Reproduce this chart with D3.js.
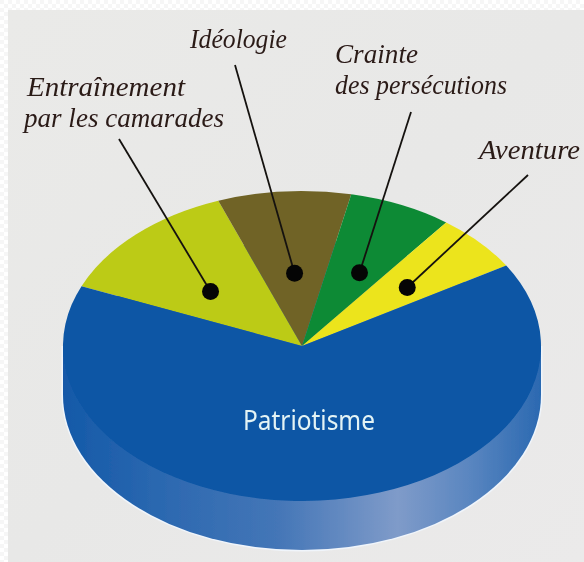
<!DOCTYPE html>
<html>
<head>
<meta charset="utf-8">
<script src="https://cdn.jsdelivr.net/npm/d3@7/dist/d3.min.js"></script>
<style>
html, body { margin: 0; padding: 0; background: #fff; }
svg { display: block; }
</style>
</head>
<body>
<svg id="chart" width="584" height="562"></svg>
<script>
// values, in clockwise order from the left edge of the lime slice
const categories = ["Entraînement par les camarades", "Idéologie", "Crainte des persécutions", "Aventure", "Patriotisme"];
const shares = [13, 9, 7, 6, 65];
const sliceColors = ["#bccb14", "#6f6426", "#0f8a35", "#ece41c", "#0b56a5"];

const svg = d3.select("#chart");
const cx = 302, cy = 346, rx = 239, ry = 155, depth = 49;
const R = 100;
const startAngle = -67.3 * Math.PI / 180;

const defs = svg.append("defs");
const blur = defs.append("filter").attr("id", "soft");
blur.append("feGaussianBlur").attr("stdDeviation", 0.6);
const textBlur = defs.append("filter").attr("id", "softText");
textBlur.append("feGaussianBlur").attr("stdDeviation", 0.35);

const paper = defs.append("linearGradient").attr("id", "paper")
    .attr("x1", 0).attr("y1", 0).attr("x2", 1).attr("y2", 1);
paper.append("stop").attr("offset", 0).attr("stop-color", "#eaeae8");
paper.append("stop").attr("offset", 0.5).attr("stop-color", "#e8e8e7");
paper.append("stop").attr("offset", 1).attr("stop-color", "#ebeaea");

const side = defs.append("linearGradient").attr("id", "side");
[[0, "#1459a8"], [0.2, "#2b68b0"], [0.45, "#4476b7"], [0.7, "#7f9bc9"], [0.85, "#5a86c0"], [1, "#2b69b1"]]
    .forEach(([o, c]) => side.append("stop").attr("offset", o).attr("stop-color", c));

// faint dotted border of the scan
const dots = defs.append("pattern").attr("id", "dots")
    .attr("width", 8).attr("height", 8).attr("patternUnits", "userSpaceOnUse");
dots.append("rect").attr("width", 4).attr("height", 4).attr("fill", "#f6f6f6");
dots.append("rect").attr("x", 4).attr("y", 4).attr("width", 4).attr("height", 4).attr("fill", "#f6f6f6");
svg.append("rect").attr("width", 584).attr("height", 562).attr("fill", "url(#dots)");

svg.append("rect").attr("x", 8).attr("y", 10).attr("width", 576).attr("height", 552).attr("fill", "url(#paper)");

const pie = d3.pie().sort(null).value(d => d)
    .startAngle(startAngle).endAngle(startAngle + 2 * Math.PI);
const arcs = pie(shares);
const arc = d3.arc().innerRadius(0).outerRadius(R);
const wholeDisc = d3.arc().innerRadius(0).outerRadius(R).startAngle(0).endAngle(2 * Math.PI)();

const disc = svg.append("g").attr("filter", "url(#soft)");

// side of the disc, the same ellipse pushed down
function drawSide(grow, fill) {
    disc.append("path")
        .attr("d", wholeDisc)
        .attr("transform", `translate(${cx},${cy + depth}) scale(${(rx + grow) / R},${(ry + grow) / R})`)
        .attr("fill", fill);
    disc.append("rect")
        .attr("x", cx - rx - grow).attr("y", cy).attr("width", 2 * (rx + grow)).attr("height", depth)
        .attr("fill", fill);
}
drawSide(1.5, "#f0f5fb"); // pale rim round the disc
drawSide(0, "url(#side)");

disc.append("g")
    .attr("transform", `translate(${cx},${cy}) scale(${rx / R},${ry / R})`)
    .selectAll("path")
    .data(arcs)
    .join("path")
    .attr("d", arc)
    .attr("fill", (d, i) => sliceColors[i]);

// leader lines, the dot sits inside its slice
const leaders = [
    { slice: 0, r: 0.52, turn: -3.5, x: 119, y: 139 },
    { slice: 1, r: 0.47, turn: 0.5, x: 235, y: 65 },
    { slice: 2, r: 0.53, turn: 2.5, x: 411, y: 112 },
    { slice: 3, r: 0.58, turn: 1.5, x: 528, y: 175 }
];
function dotPos(l) {
    const a = arcs[l.slice];
    const mid = (a.startAngle + a.endAngle) / 2 + l.turn * Math.PI / 180;
    return [cx + Math.sin(mid) * l.r * rx, cy - Math.cos(mid) * l.r * ry];
}
const leaderG = svg.append("g");
leaderG.selectAll("line")
    .data(leaders)
    .join("line")
    .attr("x1", d => d.x).attr("y1", d => d.y)
    .attr("x2", d => dotPos(d)[0]).attr("y2", d => dotPos(d)[1])
    .attr("stroke", "#15120f").attr("stroke-width", 1.8);
leaderG.selectAll("circle")
    .data(leaders)
    .join("circle")
    .attr("cx", d => dotPos(d)[0]).attr("cy", d => dotPos(d)[1])
    .attr("r", 8.5).attr("fill", "#050505");

// labels, the widths stretch the serif italic to the calligraphic lettering
const labels = [
    { text: "Entraînement", x: 27, y: 96, w: 158 },
    { text: "par les camarades", x: 24, y: 127, w: 200 },
    { text: "Idéologie", x: 190, y: 48, w: 97 },
    { text: "Crainte", x: 335, y: 63, w: 83 },
    { text: "des persécutions", x: 335, y: 94, w: 172 },
    { text: "Aventure", x: 479, y: 159, w: 101 }
];
svg.append("g")
    .attr("filter", "url(#softText)")
    .selectAll("text")
    .data(labels)
    .join("text")
    .attr("x", d => d.x).attr("y", d => d.y)
    .attr("textLength", d => d.w)
    .attr("lengthAdjust", "spacingAndGlyphs")
    .attr("font-family", "'Liberation Serif', serif")
    .attr("font-style", "italic")
    .attr("font-size", 27)
    .attr("fill", "#2b1a18")
    .text(d => d.text);

svg.append("text")
    .attr("x", 243).attr("y", 430)
    .attr("textLength", 132)
    .attr("lengthAdjust", "spacingAndGlyphs")
    .attr("font-family", "'Noto Sans', sans-serif")
    .attr("font-size", 27)
    .attr("fill", "#e3f3f5")
    .attr("filter", "url(#softText)")
    .text(categories[4]);
</script>
</body>
</html>
